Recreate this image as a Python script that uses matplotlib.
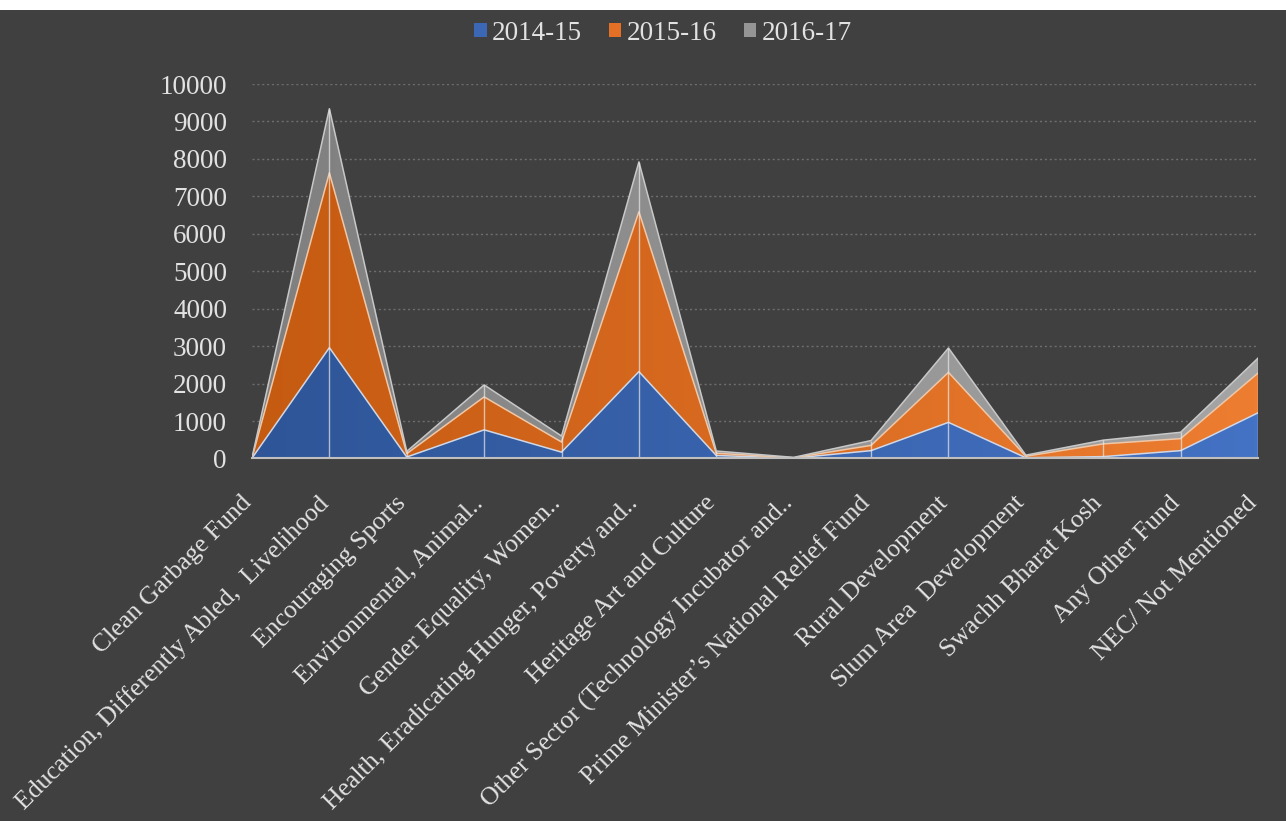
"""
Stacked area chart: CSR spend by development sector, 2014-15 to 2016-17
"""
import matplotlib
matplotlib.use('Agg')
import matplotlib.pyplot as plt
import numpy as np
from matplotlib.colors import LinearSegmentedColormap
from matplotlib.patches import Polygon, Rectangle, Patch
from matplotlib.transforms import ScaledTranslation

# Values
categories = [
    'Clean Garbage Fund',
    'Education, Differently Abled,  Livelihood',
    'Encouraging Sports',
    'Environmental, Animal..',
    'Gender Equality, Women..',
    'Health, Eradicating Hunger, Poverty and..',
    'Heritage Art and Culture',
    'Other Sector (Technology Incubator and..',
    'Prime Minister\u2019s National Relief Fund',
    'Rural Development',
    'Slum Area  Development',
    'Swachh Bharat Kosh',
    'Any Other Fund',
    'NEC/ Not Mentioned',
]
series_names = ['2014-15', '2015-16', '2016-17']
v_2014_15 = [10, 2960, 40, 765, 170, 2320, 80, 10, 210, 965, 20, 50, 210, 1220]
v_2015_16 = [5, 4670, 90, 880, 270, 4270, 60, 10, 140, 1335, 40, 340, 320, 1060]
v_2016_17 = [5, 1710, 60, 320, 160, 1330, 60, 10, 130, 650, 30, 100, 170, 400]
y_ticks = [0, 1000, 2000, 3000, 4000, 5000, 6000, 7000, 8000, 9000, 10000]

# gradient colours (left -> right), Excel style
grads = [('#2E5597', '#4472C4'), ('#C55A11', '#ED7D31'), ('#7F7F7F', '#A5A5A5')]
edge_cols = ['#d0d8e8', '#f0c8a8', '#c8c8c8']
legend_cols = ['#3B67B4', '#E47025', '#959595']

BG = '#404040'
TXT = '#e2e2e2'
FONT = 'Liberation Serif'
FS = 19.5
FS_X = 18.5

W, H = 1286, 821
fig = plt.figure(figsize=(W / 100, H / 100), dpi=100, facecolor='white')
fig.patches.append(Rectangle((0, 0), 1, 1 - 10 / H, transform=fig.transFigure,
                             facecolor=BG, edgecolor='none', zorder=-10))

x0, x1 = 252, 1258
yb, yt = 458.5, 84
ax = fig.add_axes([x0 / W, (H - yb) / H, (x1 - x0) / W, (yb - yt) / H])
ax.set_facecolor('none')

x = np.arange(len(categories))
layers = [np.array(v_2014_15), np.array(v_2015_16), np.array(v_2016_17)]
base = np.zeros(len(x))
tops = []
for vals, (c0, c1) in zip(layers, grads):
    top = base + vals
    verts = list(zip(x, top)) + list(zip(x[::-1], base[::-1]))
    poly = Polygon(verts, closed=True, facecolor='none', edgecolor='none')
    ax.add_patch(poly)
    cmap = LinearSegmentedColormap.from_list('g', [c0, c1])
    img = ax.imshow(np.linspace(0, 1, 256).reshape(1, -1), cmap=cmap,
                    extent=[x[0], x[-1], 0, 10000], aspect='auto',
                    origin='lower', zorder=2)
    img.set_clip_path(poly)
    tops.append(top)
    base = top

# layer borders
for top, ec in zip(tops, edge_cols):
    ax.plot(x, top, color=ec, lw=1.1, zorder=4)

# drop lines
ax.vlines(x, 0, tops[-1], colors='#e8e8e8', lw=1, alpha=0.7, zorder=5)

ax.set_xlim(x[0], x[-1])
ax.set_ylim(0, 10000)
ax.set_yticks(y_ticks)
ax.set_yticklabels([str(t) for t in y_ticks], fontfamily=FONT, fontsize=FS, color=TXT)
ax.set_xticks(x)
ax.set_xticklabels(categories, rotation=45, ha='right', rotation_mode='anchor',
                   fontfamily=FONT, fontsize=FS_X, color=TXT)
ax.tick_params(axis='y', length=0, pad=18)
ax.tick_params(axis='x', length=0, pad=6)
shift = ScaledTranslation(-0.12, -0.25, fig.dpi_scale_trans)
for lab in ax.get_xticklabels():
    lab.set_transform(lab.get_transform() + shift)

ax.grid(axis='y', color='#6e6e6e', linestyle=(0, (1.5, 2)), lw=1, zorder=0)
ax.set_axisbelow(True)
for s in ['top', 'right', 'left']:
    ax.spines[s].set_visible(False)
ax.spines['bottom'].set_color('#bfbfbf')
ax.spines['bottom'].set_linewidth(1.5)
ax.spines['bottom'].set_zorder(6)

handles = [Patch(facecolor=c, edgecolor='none') for c in legend_cols]
fig.legend(handles, series_names, loc='center', bbox_to_anchor=(663 / W, 1 - 33 / H),
           ncol=3, frameon=False, prop={'family': FONT, 'size': FS},
           labelcolor=TXT, handlelength=0.45, handleheight=0.45,
           handletextpad=0.2, columnspacing=1.0)

fig.savefig('out.png', dpi=100, facecolor=fig.get_facecolor())
